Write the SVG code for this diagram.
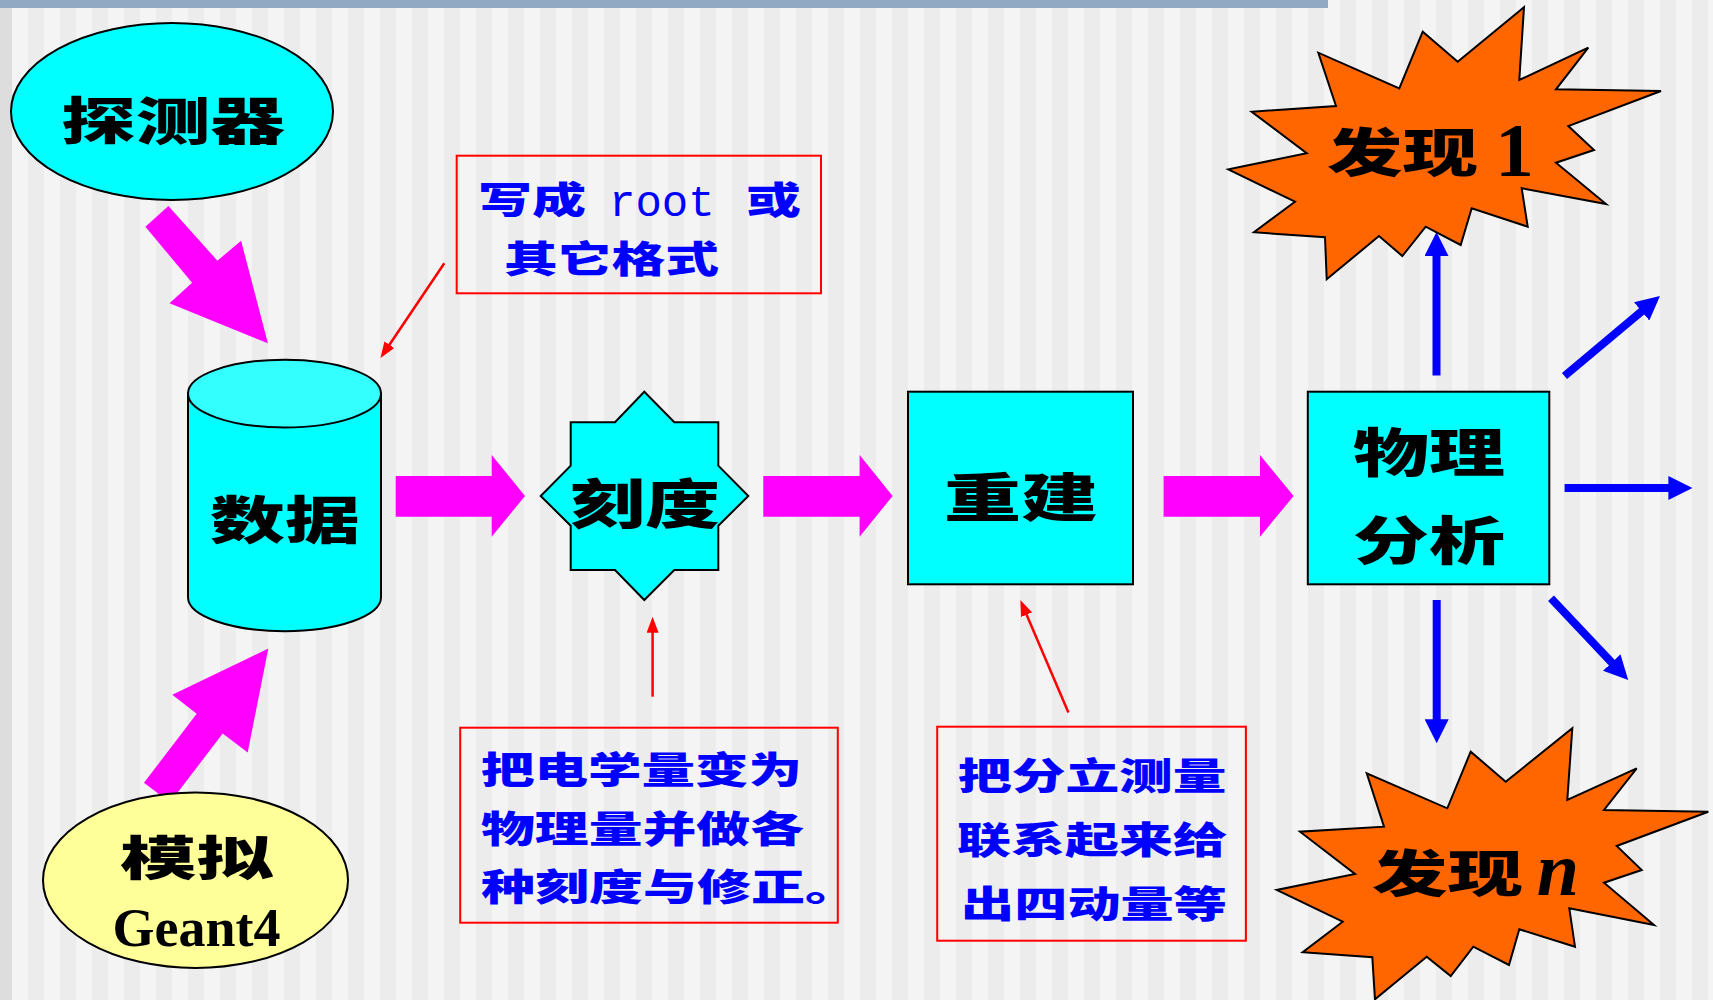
<svg xmlns="http://www.w3.org/2000/svg" width="1713" height="1000" viewBox="0 0 1713 1000">
<defs>
<pattern id="stripes" x="28" y="0" width="32" height="20" patternUnits="userSpaceOnUse">
<rect x="0" y="0" width="32" height="20" fill="#f4f4f4"/>
<rect x="0" y="0" width="16" height="20" fill="#ececec"/>
</pattern>
<marker id="blueHead" markerUnits="userSpaceOnUse" viewBox="0 0 24 24" markerWidth="24" markerHeight="24" refX="2" refY="12" orient="auto">
<path d="M0,0 L24,12 L0,24 Z" fill="#0000ff"/>
</marker>
<marker id="redHead" markerUnits="userSpaceOnUse" viewBox="0 0 16 12" markerWidth="16" markerHeight="12" refX="12" refY="6" orient="auto">
<path d="M0,0 L16,6 L0,12 Z" fill="#ff0000"/>
</marker>
<style>
.cjk { font-family: 'Noto Sans CJK SC', 'Noto Sans CJK JP', sans-serif; font-weight: 900; }
.lbl { fill: #000000; }
.note { fill: #0000ff; }
.node { stroke: #000000; stroke-width: 2; }
.cyan { fill: #00ffff; }
.burst { fill: #ff6600; stroke: #000000; stroke-width: 2; stroke-linejoin: miter; }
.magenta { fill: #ff00ff; stroke: none; }
.blue { stroke: #0000ff; stroke-width: 8; fill: none; marker-end: url(#blueHead); }
.red { stroke: #ff0000; stroke-width: 2.5; fill: none; marker-end: url(#redHead); }
.box { fill: none; stroke: #ff0000; stroke-width: 2; }
.serif { font-family: 'Liberation Serif', 'Times New Roman', serif; font-weight: bold; fill: #000000; }
</style>
</defs>

<g id="background">
<rect x="0" y="0" width="1713" height="1000" fill="url(#stripes)"/>
<rect x="0" y="0" width="12" height="1000" fill="#dddddd"/>
<rect x="0" y="0" width="1328" height="8" fill="#92a9c4"/>
</g>

<g id="connectors">
<polygon class="magenta" points="168.4,206 145.4,226.7 192.1,282.7 169.5,303.3 267.9,343.3 241.1,240.7 217.4,260.7"/>
<polygon class="magenta" points="144,782.8 196.7,713.7 172.3,694.8 268.3,648.5 247.7,752.5 222.7,733.5 170,802.6"/>
<polygon class="magenta" points="395.7,476 491.7,476 491.7,455 525,496 491.7,536.7 491.7,516.7 395.7,516.7"/>
<polygon class="magenta" points="763.3,476 859.6,476 859.6,455 892.6,496 859.6,536.7 859.6,516.7 763.3,516.7"/>
<polygon class="magenta" points="1163.6,476 1260,476 1260,455 1293.6,496 1260,536.7 1260,516.7 1163.6,516.7"/>
<line class="blue" x1="1436.5" y1="375.5" x2="1436.5" y2="254"/>
<line class="blue" x1="1564.5" y1="376" x2="1643.1" y2="310.1"/>
<line class="blue" x1="1564.6" y1="488" x2="1670.4" y2="488"/>
<line class="blue" x1="1436.7" y1="600" x2="1436.7" y2="721.3"/>
<line class="blue" x1="1551" y1="598.3" x2="1613.1" y2="664"/>
<line class="red" x1="444.3" y1="263.3" x2="382.7" y2="354.7"/>
<line class="red" x1="652.6" y1="696.7" x2="652.6" y2="620.7"/>
<line class="red" x1="1068.4" y1="712.5" x2="1021.9" y2="603.7"/>
</g>

<g id="detector">
<ellipse class="node cyan" cx="172" cy="111.5" rx="161" ry="88.5"/>
<text class="cjk lbl" x="61" y="139.5" font-size="51" textLength="224" lengthAdjust="spacingAndGlyphs">探测器</text>
</g>

<g id="simulation">
<ellipse class="node" fill="#ffff99" cx="195.5" cy="880.2" rx="152.5" ry="87.8"/>
<text class="cjk lbl" x="120" y="875.4" font-size="47" textLength="153" lengthAdjust="spacingAndGlyphs">模拟</text>
<text class="serif" x="196.5" y="946" font-size="54" text-anchor="middle">Geant4</text>
</g>

<g id="data">
<path class="node cyan" d="M188,393.6 L188,597.3 A96.5,33.9 0 0 0 381,597.3 L381,393.6 Z"/>
<ellipse class="node" fill="#33ffff" cx="284.5" cy="393.6" rx="96.5" ry="33.9"/>
<text class="cjk lbl" x="210" y="538.5" font-size="51" textLength="150" lengthAdjust="spacingAndGlyphs">数据</text>
</g>

<g id="calibration">
<polygon class="node cyan" points="644.3,391.7 674.3,422.3 718.3,422.3 718.3,465.7 748.3,496 718.3,525.7 718.3,570 674.3,570 644.3,600 615,570 570.7,570 570.7,525.7 540.7,496 570.7,465.7 570.7,422.3 615,422.3"/>
<text class="cjk lbl" x="570" y="524.3" font-size="53" textLength="150" lengthAdjust="spacingAndGlyphs">刻度</text>
</g>

<g id="reconstruction">
<rect class="node cyan" x="908" y="391.7" width="225" height="192.6"/>
<text class="cjk lbl" x="944" y="516.5" font-size="52" textLength="154" lengthAdjust="spacingAndGlyphs">重建</text>
</g>

<g id="physics">
<rect class="node cyan" x="1307.8" y="391.7" width="241.5" height="192.6"/>
<text class="cjk lbl" x="1353" y="471.5" font-size="52" textLength="152" lengthAdjust="spacingAndGlyphs">物理</text>
<text class="cjk lbl" x="1353" y="559.5" font-size="52" textLength="152" lengthAdjust="spacingAndGlyphs">分析</text>
</g>

<g id="discovery1">
<polygon class="burst" points="1318.3,52.7 1336,106 1251.7,111.7 1306.7,153.3 1228.3,169.3 1295,201.7 1254,232.3 1325,237.3 1326.7,279.3 1379,236 1402.3,256 1425.7,226.7 1460.7,245 1471.7,208.3 1527.7,226.7 1521.7,188.3 1606,204 1556,162.7 1594,150 1568.3,126 1661,91 1556,89.3 1588.3,47.7 1519.3,80 1524,7.3 1457.7,61.7 1422.7,31.7 1399.3,88.3"/>
<text class="cjk lbl" x="1327" y="171.5" font-size="52" textLength="151" lengthAdjust="spacingAndGlyphs">发现</text>
<text class="serif" x="1514.5" y="176" font-size="77" text-anchor="middle">1</text>
</g>

<g id="discoveryN">
<polygon class="burst" points="1366.7,773.3 1384,826.7 1300,831.7 1355,874 1276.7,890 1342.7,921.7 1302.7,952.3 1372.3,957.3 1375,999.3 1426.7,956.7 1450.7,976 1473.3,946.7 1509,965 1519.3,929.3 1575,946.7 1569.3,908.3 1654,925 1604,882.7 1641.7,870 1616.7,846 1708.3,811.7 1604,810 1636.7,768.3 1567.3,800 1572.3,728.3 1505.7,781.7 1470.7,751.7 1447.3,808.3"/>
<text class="cjk lbl" x="1372" y="891.5" font-size="50" textLength="151" lengthAdjust="spacingAndGlyphs">发现</text>
<text class="serif" x="1558" y="895" font-size="76" font-style="italic" text-anchor="middle">n</text>
</g>

<g id="noteFormat">
<rect class="box" x="456.7" y="155.7" width="364.3" height="137.6"/>
<text class="cjk note" x="478" y="214" font-size="37" textLength="108" lengthAdjust="spacingAndGlyphs">写成</text>
<text x="609" y="216" font-size="44" font-family="'Liberation Mono', 'Courier New', monospace" fill="#0000ff">root</text>
<text class="cjk note" x="746" y="214" font-size="37" textLength="55" lengthAdjust="spacingAndGlyphs">或</text>
<text class="cjk note" x="504" y="272.5" font-size="37" textLength="215" lengthAdjust="spacingAndGlyphs">其它格式</text>
</g>

<g id="noteCalibration">
<rect class="box" x="460.2" y="727.7" width="377.6" height="195"/>
<text class="cjk note" x="481" y="784" font-size="37" textLength="321" lengthAdjust="spacingAndGlyphs">把电学量变为</text>
<text class="cjk note" x="481" y="842.5" font-size="37" textLength="323" lengthAdjust="spacingAndGlyphs">物理量并做各</text>
<text class="cjk note" x="481" y="900.6" font-size="37" textLength="378" lengthAdjust="spacingAndGlyphs">种刻度与修正。</text>
</g>

<g id="noteReconstruction">
<rect class="box" x="937.2" y="726.7" width="308.7" height="214"/>
<text class="cjk note" x="958" y="790" font-size="37" textLength="268.5" lengthAdjust="spacingAndGlyphs">把分立测量</text>
<text class="cjk note" x="957" y="854" font-size="37" textLength="270" lengthAdjust="spacingAndGlyphs">联系起来给</text>
<text class="cjk note" x="961" y="918" font-size="37" textLength="266" lengthAdjust="spacingAndGlyphs">出四动量等</text>
</g>
</svg>
